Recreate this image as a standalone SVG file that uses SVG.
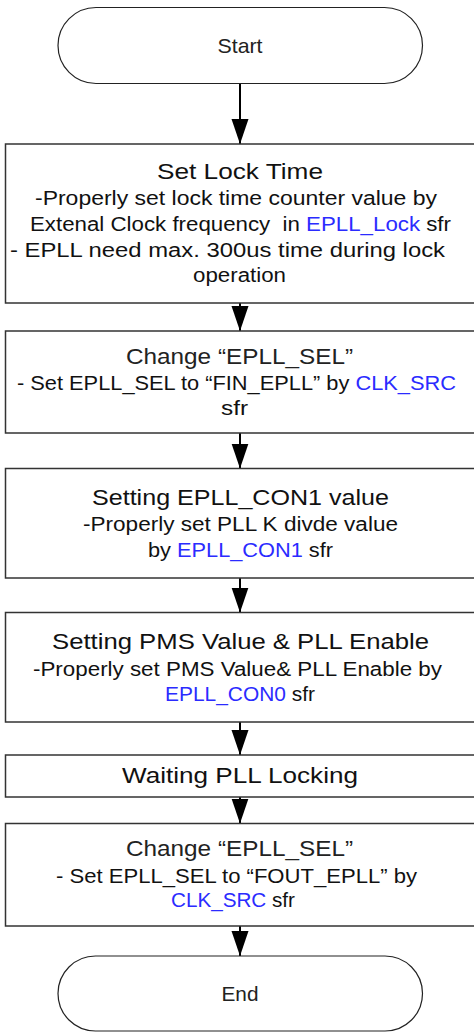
<svg xmlns="http://www.w3.org/2000/svg" width="474" height="1032" viewBox="0 0 474 1032">
<style>
  .term { fill: #ffffff; stroke: #222222; stroke-width: 1.2; }
  .box { fill: #ffffff; stroke: #333333; stroke-width: 1.5; }
  .t { font-family: "Liberation Sans", Arial, sans-serif; text-anchor: middle; fill: #111111; }
  .title { font-size: 22px; }
  .body { font-size: 20px; }
  .term-t { font-size: 21px; fill: #222222; }
  .light { fill: #222222; }
  .sfr { fill: #2b2bff; }
  .conn { stroke: #000000; stroke-width: 2; fill: none; marker-end: url(#arrow); }
</style>
<defs>
  <marker id="arrow" markerUnits="userSpaceOnUse" markerWidth="26" markerHeight="18" refX="25" refY="8.5" orient="auto">
    <path d="M0,0 L25,8.5 L0,17 z" fill="#000000"/>
  </marker>
</defs>
<rect width="474" height="1032" fill="#ffffff"/>
<g id="connectors">
  <line class="conn" x1="240" y1="83.5" x2="240" y2="144"/>
  <line class="conn" x1="240" y1="303" x2="240" y2="331"/>
  <line class="conn" x1="240" y1="433" x2="240" y2="468.5"/>
  <line class="conn" x1="240" y1="578" x2="240" y2="612.5"/>
  <line class="conn" x1="240" y1="722" x2="240" y2="755"/>
  <line class="conn" x1="240" y1="797" x2="240" y2="823.5"/>
  <line class="conn" x1="240" y1="926" x2="240" y2="956"/>
</g>
<g id="start">
  <rect class="term" x="58" y="7.5" width="364.5" height="76" rx="38" ry="38"/>
  <text class="t term-t" x="240" y="52.5" textLength="45" lengthAdjust="spacingAndGlyphs">Start</text>
</g>
<g id="set-lock-time">
  <rect class="box" x="5.5" y="144" width="480" height="159"/>
  <text class="t title" x="240" y="178.5" textLength="166" lengthAdjust="spacingAndGlyphs">Set Lock Time</text>
  <text class="t body" x="236" y="204.5" textLength="402" lengthAdjust="spacingAndGlyphs">-Properly set lock time counter value by</text>
  <text class="t body" x="240.5" y="230.5" textLength="421" lengthAdjust="spacingAndGlyphs" xml:space="preserve">Extenal Clock frequency  in <tspan class="sfr">EPLL_Lock</tspan> sfr</text>
  <text class="t body" x="227.5" y="256.5" textLength="435" lengthAdjust="spacingAndGlyphs">- EPLL need max. 300us time during lock</text>
  <text class="t body" x="239.5" y="281.5" textLength="93" lengthAdjust="spacingAndGlyphs">operation</text>
</g>
<g id="change-sel-1">
  <rect class="box" x="5.5" y="331" width="480" height="102"/>
  <text class="t title light" x="239.5" y="364" textLength="227" lengthAdjust="spacingAndGlyphs">Change “EPLL_SEL”</text>
  <text class="t body" x="236.5" y="390" textLength="439" lengthAdjust="spacingAndGlyphs">- Set EPLL_SEL to “FIN_EPLL” by <tspan class="sfr">CLK_SRC</tspan></text>
  <text class="t body" x="234.5" y="415" textLength="27" lengthAdjust="spacingAndGlyphs">sfr</text>
</g>
<g id="epll-con1">
  <rect class="box" x="5.5" y="468.5" width="480" height="109.5"/>
  <text class="t title" x="240.5" y="505" textLength="297" lengthAdjust="spacingAndGlyphs">Setting EPLL_CON1 value</text>
  <text class="t body" x="240.5" y="531" textLength="315" lengthAdjust="spacingAndGlyphs">-Properly set PLL K divde value</text>
  <text class="t body" x="240.5" y="557" textLength="185" lengthAdjust="spacingAndGlyphs">by <tspan class="sfr">EPLL_CON1</tspan> sfr</text>
</g>
<g id="pms-enable">
  <rect class="box" x="5.5" y="612.5" width="480" height="109.5"/>
  <text class="t title" x="240.5" y="649" textLength="377" lengthAdjust="spacingAndGlyphs">Setting PMS Value &amp; PLL Enable</text>
  <text class="t body" x="237.5" y="676" textLength="409" lengthAdjust="spacingAndGlyphs">-Properly set PMS Value&amp; PLL Enable by</text>
  <text class="t body" x="240" y="701" textLength="150" lengthAdjust="spacingAndGlyphs"><tspan class="sfr">EPLL_CON0</tspan> sfr</text>
</g>
<g id="wait-lock">
  <rect class="box" x="5.5" y="755" width="480" height="42"/>
  <text class="t title" x="240" y="783" textLength="236" lengthAdjust="spacingAndGlyphs">Waiting PLL Locking</text>
</g>
<g id="change-sel-2">
  <rect class="box" x="5.5" y="823.5" width="480" height="102.5"/>
  <text class="t title light" x="239.5" y="856" textLength="227" lengthAdjust="spacingAndGlyphs">Change “EPLL_SEL”</text>
  <text class="t body" x="236.5" y="883" textLength="361" lengthAdjust="spacingAndGlyphs">- Set EPLL_SEL to “FOUT_EPLL” by</text>
  <text class="t body" x="233" y="907" textLength="124" lengthAdjust="spacingAndGlyphs"><tspan class="sfr">CLK_SRC</tspan> sfr</text>
</g>
<g id="end">
  <rect class="term" x="58" y="956" width="364.5" height="75" rx="37.5" ry="37.5"/>
  <text class="t term-t" x="240" y="1000.5" textLength="37" lengthAdjust="spacingAndGlyphs">End</text>
</g>
</svg>
